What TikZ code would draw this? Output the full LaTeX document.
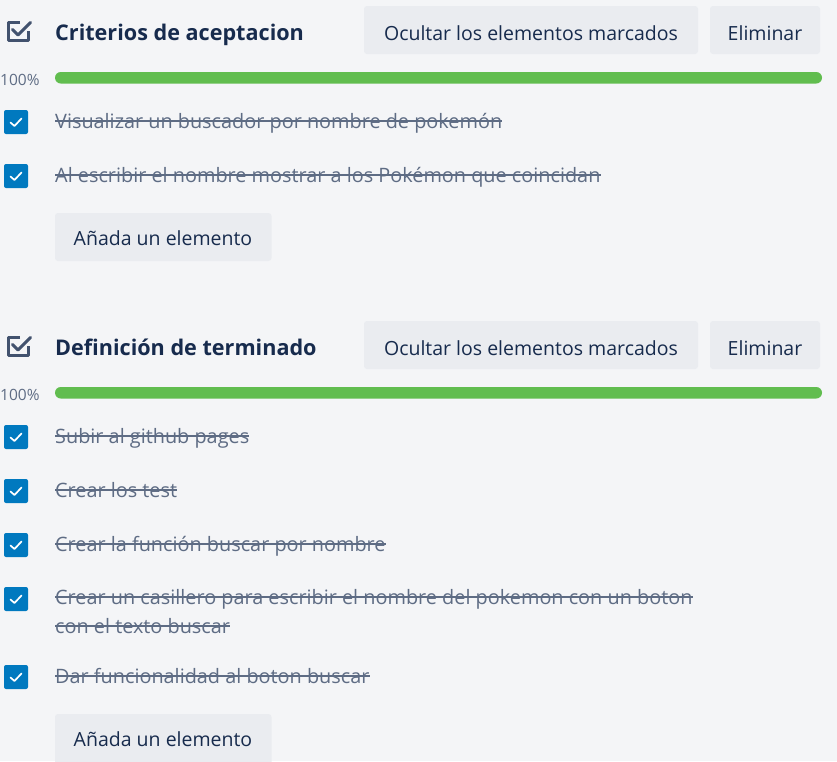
\documentclass[tikz,border=0pt]{standalone}
\usepackage{fontspec}
\setmainfont{Open Sans}
\usetikzlibrary{calc}
\definecolor{bg}{HTML}{F4F5F7}
\definecolor{ttl}{HTML}{172B4D}
\definecolor{itm}{HTML}{5E6C84}
\definecolor{btn}{HTML}{EAECF0}
\definecolor{grn}{HTML}{61BD4F}
\definecolor{blu}{HTML}{0079BF}
\definecolor{ico}{HTML}{42526E}
\begin{document}
\begin{tikzpicture}[x=1pt,y=-1pt,
 title/.style={inner sep=0,anchor=base west,text=ttl,font=\bfseries\fontsize{21.6}{24}\selectfont},
 itemtext/.style={inner sep=0,anchor=base west,text=itm,font=\fontsize{19.85}{22}\selectfont},
 btntext/.style={inner sep=0,anchor=base,text=ttl,font=\fontsize{19.5}{22}\selectfont},
 pct/.style={inner sep=0,anchor=base west,text=itm,font=\fontsize{15.5}{18}\selectfont},
 btnbox/.style={fill=btn,rounded corners=3pt},
 cbox/.style={fill=blu,rounded corners=2pt},
 tick/.style={draw=white,line width=1.7pt,line cap=round,line join=round},
 strike/.style={draw=itm,line width=1.7pt},
 bar/.style={fill=grn,rounded corners=5.75pt},
 icon/.style={draw=ico,line width=3pt,line join=round}
]
\useasboundingbox (0,0) rectangle (837,761);
\clip (0,0) rectangle (837,761);
\fill[bg] (0,0) rectangle (837,761);

% ---------- Section 1 ----------
\draw[icon] (20,22) -- (8.5,22) -- (8.5,40.2) -- (28,40.2) -- (28,31);
\draw[icon,line cap=round] (12.5,29.5) -- (18,35) -- (30.5,22.5);
\node[title] (t1) at (55,40) {Criterios de aceptacion};

\fill[btnbox] (364,6) rectangle (698,54);
\node[btntext] (h1) at (531,40) {Ocultar los elementos marcados};
\fill[btnbox] (710,6) rectangle (820,54);
\node[btntext] (e1) at (765,40) {Eliminar};

\node[pct] (p1) at (0,85) {100\%};
\fill[bar] (55,72) rectangle (822,83.5);

\fill[cbox] (4,110) rectangle (28,134);
\draw[tick] (10.5,122.5) -- (14.5,126) -- (21.5,118.5);
\node[itemtext] (a1) at (55,128.5) {Visualizar un buscador por nombre de pokemón};
\draw[strike] ($(a1.base west)+(0,7.3pt)$) -- ($(a1.base east)+(0,7.3pt)$);

\fill[cbox] (4,164) rectangle (28,188);
\draw[tick] (10.5,176.5) -- (14.5,180) -- (21.5,172.5);
\node[itemtext] (a2) at (55,182.5) {Al escribir el nombre mostrar a los Pokémon que coincidan};
\draw[strike] ($(a2.base west)+(0,7.3pt)$) -- ($(a2.base east)+(0,7.3pt)$);

\fill[btnbox] (55,213) rectangle (271.5,261);
\node[btntext] (n1) at (163,245) {Añada un elemento};

% ---------- Section 2 ----------
\draw[icon] (20,337) -- (8.5,337) -- (8.5,355.2) -- (28,355.2) -- (28,346);
\draw[icon,line cap=round] (12.5,344.5) -- (18,350) -- (30.5,337.5);
\node[title] (t2) at (55,355) {Definición de terminado};

\fill[btnbox] (364,321) rectangle (698,369);
\node[btntext] (h2) at (531,355) {Ocultar los elementos marcados};
\fill[btnbox] (710,321) rectangle (820,369);
\node[btntext] (e2) at (765,355) {Eliminar};

\node[pct] (p2) at (0,400) {100\%};
\fill[bar] (55,387) rectangle (822,398.5);

\fill[cbox] (4,425) rectangle (28,449);
\draw[tick] (10.5,437.5) -- (14.5,441) -- (21.5,433.5);
\node[itemtext] (b1) at (55,443.5) {Subir al github pages};
\draw[strike] ($(b1.base west)+(0,7.3pt)$) -- ($(b1.base east)+(0,7.3pt)$);

\fill[cbox] (4,479) rectangle (28,503);
\draw[tick] (10.5,491.5) -- (14.5,495) -- (21.5,487.5);
\node[itemtext] (b2) at (55,497.5) {Crear los test};
\draw[strike] ($(b2.base west)+(0,7.3pt)$) -- ($(b2.base east)+(0,7.3pt)$);

\fill[cbox] (4,533) rectangle (28,557);
\draw[tick] (10.5,545.5) -- (14.5,549) -- (21.5,541.5);
\node[itemtext] (b3) at (55,551.5) {Crear la función buscar por nombre};
\draw[strike] ($(b3.base west)+(0,7.3pt)$) -- ($(b3.base east)+(0,7.3pt)$);

\fill[cbox] (4,587) rectangle (28,611);
\draw[tick] (10.5,599.5) -- (14.5,603) -- (21.5,595.5);
\node[itemtext] (b4) at (55,604.5) {Crear un casillero para escribir el nombre del pokemon con un boton};
\draw[strike] ($(b4.base west)+(0,7.3pt)$) -- ($(b4.base east)+(0,7.3pt)$);
\node[itemtext] (b4b) at (55,633.5) {con el texto buscar};
\draw[strike] ($(b4b.base west)+(0,7.3pt)$) -- ($(b4b.base east)+(0,7.3pt)$);

\fill[cbox] (4,665) rectangle (28,689);
\draw[tick] (10.5,677.5) -- (14.5,681) -- (21.5,673.5);
\node[itemtext] (b5) at (55,683.5) {Dar funcionalidad al boton buscar};
\draw[strike] ($(b5.base west)+(0,7.3pt)$) -- ($(b5.base east)+(0,7.3pt)$);

\fill[btnbox] (55,714) rectangle (271.5,770);
\node[btntext] (n2) at (163,746.5) {Añada un elemento};
\end{tikzpicture}
\end{document}
